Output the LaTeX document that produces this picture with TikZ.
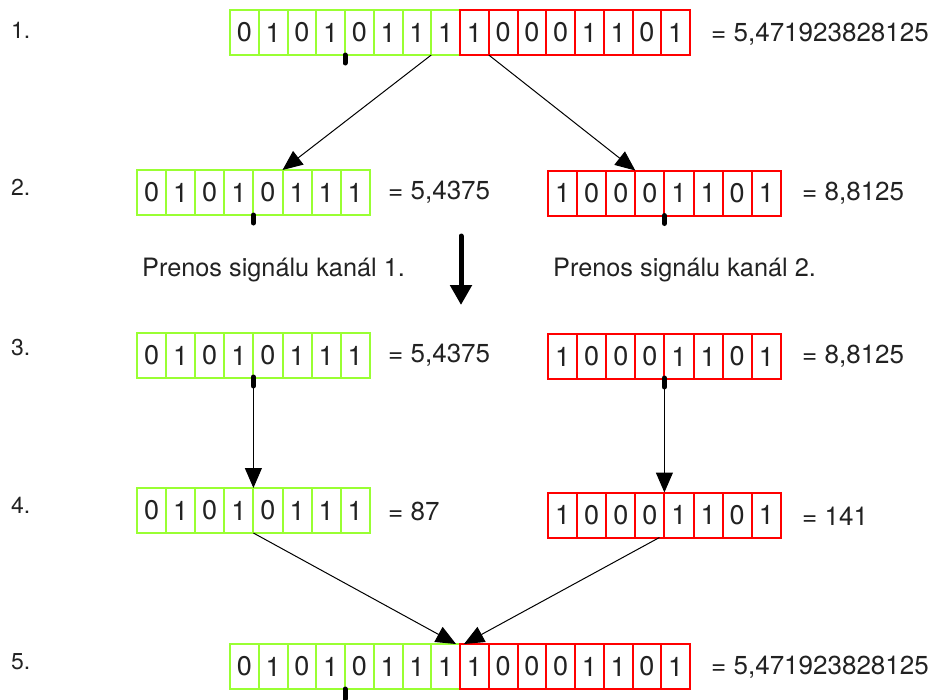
\documentclass[tikz,border=0pt]{standalone}
\usepackage{fontspec}
\setmainfont{TeX Gyre Heros}
\usetikzlibrary{arrows.meta,calc}
\definecolor{bgreen}{RGB}{153,255,51}
\definecolor{bred}{RGB}{255,0,0}
\definecolor{ink}{RGB}{34,34,34}
\tikzset{
  cell/.style={draw, line width=2pt, inner sep=0pt, outer sep=0pt, minimum height=45pt,
    font=\fontsize{27}{27}\selectfont, text=ink},
  sidetext/.style={anchor=west, inner sep=0pt, font=\fontsize{26}{26}\selectfont, text=ink},
  chantext/.style={anchor=west, inner sep=0pt, font=\fontsize{25.3}{26}\selectfont, text=ink},
  rowlabel/.style={anchor=west, inner sep=0pt, font=\fontsize{23}{23}\selectfont, text=ink},
  tickmark/.style={line width=5pt, line cap=round},
  thinarrow/.style={line width=1pt, -{Triangle[length=20pt,width=17pt]}},
  bigarrow/.style={line width=5pt, line cap=round, -{Triangle[length=20pt,width=21pt]}}
}
% #1 prefix, #2 x0, #3 y centre, #4 cell width, #5 colour, #6 first index, #7 bits
\newcommand{\bitrow}[7]{%
  \foreach \b [count=\i from #6] in {#7} {
    \node[cell, draw=#5, minimum width=#4pt] (#1c\i) at ({#2+#4*(\i-0.5)},#3) {\b};
  }}
\begin{document}
\begin{tikzpicture}[x=1pt,y=-1pt]
\useasboundingbox (0,0) rectangle (933,699);

% row labels
\node[rowlabel] (l1) at (11,30) {1.};
\node[rowlabel] (l2) at (11,187) {2.};
\node[rowlabel] (l3) at (11,348) {3.};
\node[rowlabel] (l4) at (11,505) {4.};
\node[rowlabel] (l5) at (11,662) {5.};

% row 1
\bitrow{r1}{230}{32.5}{28.75}{bgreen}{1}{0,1,0,1,0,1,1,1}
\bitrow{r1}{230}{32.5}{28.75}{bred}{9}{1,0,0,0,1,1,0,1}
\node[sidetext] (v1) at (711,34) {= 5,471923828125};
\draw[tickmark] (r1c5.south west) -- ++(0,8);

% row 2
\bitrow{r2L}{137}{192.5}{29.1}{bgreen}{1}{0,1,0,1,0,1,1,1}
\bitrow{r2R}{548}{193}{29.1}{bred}{1}{1,0,0,0,1,1,0,1}
\node[sidetext] (v2L) at (388,192) {= 5,4375};
\node[sidetext] (v2R) at (802,193) {= 8,8125};
\draw[tickmark] (r2Lc5.south west) -- ++(0,8);
\draw[tickmark] (r2Rc5.south west) -- ++(0,8);

\draw[thinarrow] (r1c8.south west) -- (r2Lc6.north west);
\draw[thinarrow] (r1c10.south west) -- (r2Rc4.north west);

% transmission
\node[chantext] (p1) at (142,270) {Prenos signálu kanál 1.};
\node[chantext] (p2) at (553,270) {Prenos signálu kanál 2.};
\coordinate (bigA) at (461,236);
\coordinate (bigB) at (461,305);
\draw[bigarrow] (bigA) -- (bigB);

% row 3
\bitrow{r3L}{137}{355.5}{29.1}{bgreen}{1}{0,1,0,1,0,1,1,1}
\bitrow{r3R}{548}{356.5}{29.1}{bred}{1}{1,0,0,0,1,1,0,1}
\node[sidetext] (v3L) at (388,355) {= 5,4375};
\node[sidetext] (v3R) at (802,356) {= 8,8125};

% row 4
\bitrow{r4L}{137}{510.5}{29.1}{bgreen}{1}{0,1,0,1,0,1,1,1}
\bitrow{r4R}{548}{515}{29.1}{bred}{1}{1,0,0,0,1,1,0,1}
\node[sidetext] (v4L) at (388,511) {= 87};
\node[sidetext] (v4R) at (802,516) {= 141};

\draw[thinarrow] (r3Lc5.south west) -- (r4Lc5.north west);
\draw[thinarrow] (r3Rc5.south west) -- (r4Rc5.north west);
\draw[tickmark] ($(r3Lc5.south west)+(0,-1)$) -- ++(0,9);
\draw[tickmark] ($(r3Rc5.south west)+(0,-1)$) -- ++(0,9);

% row 5
\bitrow{r5}{230}{666.5}{28.75}{bgreen}{1}{0,1,0,1,0,1,1,1}
\bitrow{r5}{230}{666.5}{28.75}{bred}{9}{1,0,0,0,1,1,0,1}
\node[sidetext] (v5) at (711,667) {= 5,471923828125};
\draw[tickmark] (r5c5.south west) -- ++(0,10);

\draw[thinarrow] (r4Lc5.south west) -- ($(r5c9.north west)+(-4,0)$);
\draw[thinarrow] ($(r4Rc5.south west)+(-5,0)$) -- ($(r5c9.north west)+(4,0)$);
\end{tikzpicture}
\end{document}
